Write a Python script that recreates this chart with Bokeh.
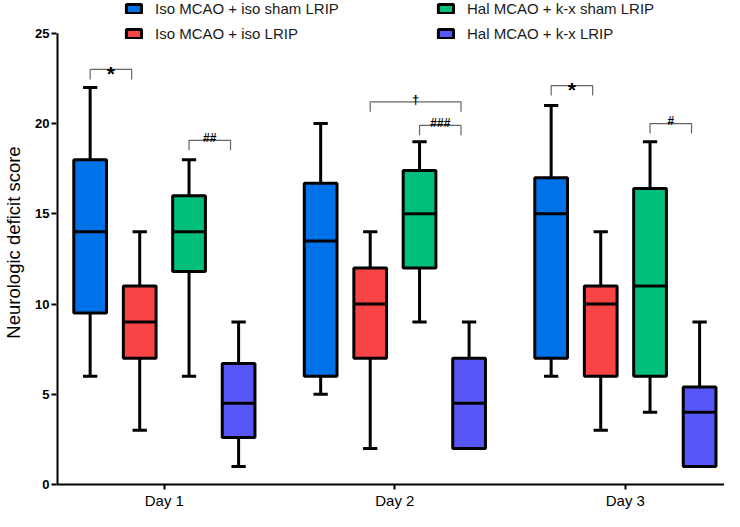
from bokeh.plotting import figure
from bokeh.models import Legend, LegendItem, Range1d, FixedTicker, ColumnDataSource
from bokeh.core.properties import value
from bokeh.embed import file_html
from bokeh.resources import INLINE

days = ["Day 1", "Day 2", "Day 3"]
groups = ["Iso MCAO + iso sham LRIP", "Iso MCAO + iso LRIP",
          "Hal MCAO + k-x sham LRIP", "Hal MCAO + k-x LRIP"]
colors = ["#0072E8", "#F84444", "#00BF7A", "#5757F7"]

# per group, per day
whisker_low = [[6, 5, 6], [3, 2, 3], [6, 9, 4], [1, 2, 1]]
q1 = [[9.5, 6, 7], [7, 7, 6], [11.8, 12, 6], [2.6, 2, 1]]
median = [[14, 13.5, 15], [9, 10, 10], [14, 15, 11], [4.5, 4.5, 4]]
q3 = [[18, 16.7, 17], [11, 12, 11], [16, 17.4, 16.4], [6.7, 7, 5.4]]
whisker_high = [[22, 20, 21], [14, 14, 14], [18, 19, 19], [9, 9, 9]]

# significance brackets
sig_day = [0, 0, 1, 1, 2, 2]
sig_from = [0, 2, 1, 2, 0, 2]
sig_to = [1, 3, 3, 3, 1, 3]
sig_top = [23.0, 19.07, 21.2, 19.9, 22.1, 20.0]
sig_text = ["*", "##", "\u2020", "###", "*", "#"]

offsets = [-0.322, -0.107, 0.107, 0.322]
box_w = 0.142
cap_w = 0.062
FONT = "Liberation Sans"

W, H = 724, 511
left_border = 49
bottom_border = 25
x_start, x_end = -0.468, 2.43
frame_h = H - bottom_border
y_end = 25 * frame_h / (frame_h - 33)

p = figure(width=W, height=H, output_backend="svg", toolbar_location=None,
           x_range=Range1d(x_start, x_end), y_range=Range1d(0, y_end),
           min_border_left=left_border, min_border_right=0, min_border_top=0,
           min_border_bottom=bottom_border)
p.outline_line_color = None
p.xgrid.visible = False
p.ygrid.visible = False

box_renderers = []
for g in range(4):
    xs = [d + offsets[g] for d in range(3)]
    src = ColumnDataSource(dict(
        x=xs,
        xl=[x - box_w / 2 for x in xs], xr=[x + box_w / 2 for x in xs],
        cl=[x - cap_w / 2 for x in xs], cr=[x + cap_w / 2 for x in xs],
        lo=whisker_low[g], q1=q1[g], med=median[g], q3=q3[g], hi=whisker_high[g]))
    p.segment(x0="x", y0="q3", x1="x", y1="hi", source=src, line_color="black", line_width=3)
    p.segment(x0="x", y0="lo", x1="x", y1="q1", source=src, line_color="black", line_width=3)
    p.segment(x0="cl", y0="hi", x1="cr", y1="hi", source=src, line_color="black", line_width=3)
    p.segment(x0="cl", y0="lo", x1="cr", y1="lo", source=src, line_color="black", line_width=3)
    r = p.vbar(x="x", width=box_w, bottom="q1", top="q3", source=src,
               fill_color=colors[g], line_color="black", line_width=3)
    p.segment(x0="xl", y0="med", x1="xr", y1="med", source=src, line_color="black", line_width=3)
    box_renderers.append(r)

# brackets
leg = 0.55
bx, by, tx, ty, tt, tfs = [], [], [], [], [], []
for d, a, b, top, t in zip(sig_day, sig_from, sig_to, sig_top, sig_text):
    xa = d + offsets[a]
    xb = d + offsets[b] - 0.035
    bx.append([xa, xa, xb, xb])
    by.append([top - leg, top, top, top - leg])
    tx.append((xa + xb) / 2)
    if t == "*":
        ty.append(top - 0.2)
        tfs.append("21px")
    elif t == "\u2020":
        ty.append(top + 0.12)
        tfs.append("13px")
    else:
        ty.append(top + 0.12)
        tfs.append("12px")
    tt.append(t)
p.multi_line(xs=bx, ys=by, line_color="#666666", line_width=1.2)
tsrc = ColumnDataSource(dict(x=tx, y=ty, t=tt, fs=tfs))
p.text(x="x", y="y", text="t", source=tsrc, text_font=value(FONT), text_font_size="fs",
       text_font_style="bold", text_align="center", text_baseline="alphabetic",
       text_color="black")

# y axis line (only up to 25)
p.segment(x0=[x_start], y0=[0], x1=[x_start], y1=[25], line_color="black", line_width=4)

# axes
p.xaxis.ticker = FixedTicker(ticks=[0, 1, 2])
p.xaxis.major_label_overrides = {0: days[0], 1: days[1], 2: days[2]}
p.xaxis.major_label_text_font = FONT
p.xaxis.major_label_text_font_size = "15px"
p.xaxis.major_label_text_color = "black"
p.xaxis.axis_line_width = 2
p.xaxis.axis_line_color = "black"
p.xaxis.major_tick_line_width = 2
p.xaxis.major_tick_out = 5
p.xaxis.major_tick_in = 0
p.xaxis.minor_tick_line_color = None
p.xaxis.major_label_standoff = 2

p.yaxis.ticker = FixedTicker(ticks=[0, 5, 10, 15, 20, 25])
p.yaxis.axis_line_color = None
p.yaxis.major_label_text_font = FONT
p.yaxis.major_label_text_font_size = "13px"
p.yaxis.major_label_text_font_style = "bold"
p.yaxis.major_label_text_color = "black"
p.yaxis.major_tick_line_width = 2
p.yaxis.major_tick_out = 5
p.yaxis.major_tick_in = 0
p.yaxis.minor_tick_line_color = None
p.yaxis.major_label_standoff = 2
p.yaxis.axis_label = "Neurologic deficit score"
p.yaxis.axis_label_text_font = FONT
p.yaxis.axis_label_text_font_size = "18.5px"
p.yaxis.axis_label_text_font_style = "normal"
p.yaxis.axis_label_text_color = "black"
p.yaxis.axis_label_standoff = 8

# legends (two columns)
def make_legend(idx, xloc):
    lg = Legend(items=[LegendItem(label=value(groups[i]), renderers=[box_renderers[i]]) for i in idx],
                location=(xloc, frame_h - 44), orientation="vertical",
                label_text_font=FONT, label_text_font_size="15px", label_text_color="#1a1a1a",
                glyph_width=19, glyph_height=11, label_standoff=12, label_height=18,
                spacing=7, padding=0, margin=0,
                border_line_color=None, background_fill_alpha=0)
    p.add_layout(lg)

make_legend([0, 1], 68)
make_legend([2, 3], 380)

open("out.html", "w").write(file_html(p, INLINE))
